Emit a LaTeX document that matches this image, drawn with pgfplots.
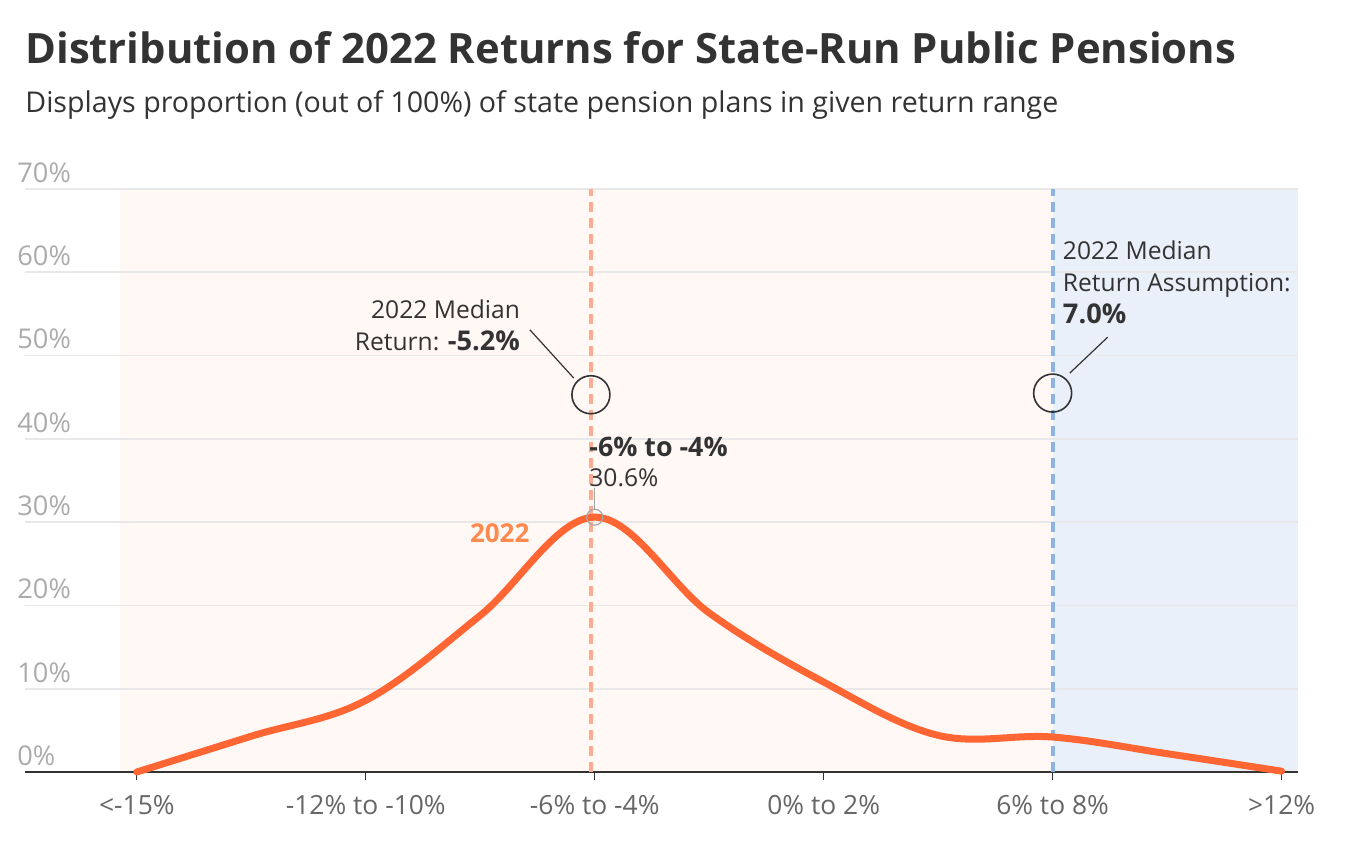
\documentclass[border=0pt]{standalone}
\usepackage{fontspec}
\setmainfont{Open Sans}
\usepackage{pgfplots}
\pgfplotsset{compat=1.18}

\definecolor{ink}{HTML}{333333}
\definecolor{ticklab}{HTML}{666666}
\definecolor{ylab}{HTML}{ABABAB}
\definecolor{gridc}{HTML}{E8E8E8}
\definecolor{curve}{HTML}{FF6633}
\definecolor{curvelab}{HTML}{FF8A50}
\definecolor{medline}{HTML}{FFAB91}
\definecolor{assline}{HTML}{8AB4E8}
\definecolor{bgorange}{HTML}{FFF8F5}
\definecolor{bgblue}{HTML}{E9F0F9}

\begin{document}
\begin{tikzpicture}[x=1pt,y=1pt]
\path (0,0) rectangle (674.5,-426.5);
% shaded return zones (under the grid)
\fill[bgorange] (60,-94.5) rectangle (526.5,-386);
\fill[bgblue] (526.5,-94.5) rectangle (649,-386);

\node[anchor=base west, inner sep=0pt, text=ink, font=\bfseries\fontsize{20.9}{24}\selectfont]
  at (12.5,-31.5) {Distribution of 2022 Returns for State-Run Public Pensions};
\node[anchor=base west, inner sep=0pt, text=ink, font=\fontsize{14.3}{16}\selectfont]
  at (12.5,-56) {Displays proportion (out of 100\%) of state pension plans in given return range};

\begin{axis}[
    at={(12.5pt,-386pt)}, anchor=south west,
    scale only axis, width=636.5pt, height=291.5pt,
    xmin=-19.93, xmax=13.43,
    ymin=0, ymax=70,
    axis x line*=bottom,
    axis y line*=left,
    x axis line style={-, draw=ink, line width=1pt},
    y axis line style={draw=none},
    xtick={-17,-11,-5,1,7,13},
    xticklabels={<-15\%, -12\% to -10\%, -6\% to -4\%, 0\% to 2\%, 6\% to 8\%, >12\%},
    tick align=outside,
    major tick length=4pt,
    x tick style={draw=ink, line width=0.6pt},
    xticklabel style={text=ticklab, font=\fontsize{13.2}{15}\selectfont, yshift=-4pt},
    ytick={0,10,...,70},
    yticklabels={0\%,10\%,20\%,30\%,40\%,50\%,60\%,70\%},
    ymajorgrids,
    grid style={draw=gridc, line width=0.8pt},
    y tick style={draw=none},
    yticklabel style={text=ylab, font=\fontsize{13.6}{15}\selectfont, anchor=south west, inner sep=0pt, yshift=3pt},
    clip=false,
]
% median lines
\addplot[medline, line width=2pt, dash pattern=on 5pt off 3pt] coordinates {(-5.1,0) (-5.1,70)};
\addplot[assline, line width=2pt, dash pattern=on 5pt off 3pt] coordinates {(7,0) (7,70)};

% 2022 distribution
\addplot[curve, line width=3.5pt, smooth, tension=0.6, line cap=round] coordinates {
  (-17,0) (-14,4.3) (-11,8.6) (-8,18.8) (-5,30.6) (-2,19.1)
  (1,10.8) (4,4.4) (7,4.2) (10,2.2) (13,0.1)
};

% annotations
\node[anchor=south east, align=right, inner sep=0pt, text=ink, font=\fontsize{12.3}{16}\selectfont]
  at (axis cs:-6.95,50.5) {2022 Median\\Return: \textbf{\fontsize{13.6}{16}\selectfont -5.2\%}};
\draw[ink, line width=0.6pt] (axis cs:-6.70,53.1) -- (axis cs:-5.55,47.3);
\draw[ink, line width=0.8pt] (axis cs:-5.1,45.3) circle[radius=9.5pt];

\node[anchor=north west, align=left, inner sep=0pt, text=ink, font=\fontsize{12.3}{16}\selectfont]
  at (axis cs:7.26,63.8) {2022 Median\\Return Assumption:\\\textbf{\fontsize{13.6}{16}\selectfont 7.0\%}};
\draw[ink, line width=0.6pt] (axis cs:7.45,47.9) -- (axis cs:8.44,52.2);
\draw[ink, line width=0.8pt] (axis cs:7,45.5) circle[radius=9.5pt];

\node[anchor=north west, align=left, inner sep=0pt, text=ink, font=\fontsize{12.3}{15}\selectfont]
  at (axis cs:-5.15,40.3) {\textbf{\fontsize{13.4}{15}\selectfont -6\% to -4\%}\\30.6\%};
\draw[gray!70, line width=0.6pt] (axis cs:-5,34.1) -- (axis cs:-5,31.5);
\draw[gray!70, line width=0.6pt] (axis cs:-5,30.6) circle[radius=4pt];

\node[text=curvelab, font=\bfseries\fontsize{13}{15}\selectfont, inner sep=0pt]
  at (axis cs:-7.49,28.7) {2022};
\end{axis}
\end{tikzpicture}
\end{document}
